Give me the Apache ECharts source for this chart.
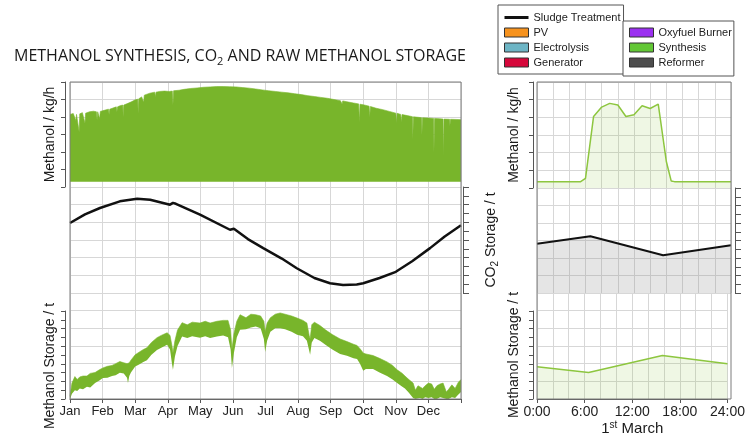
<!DOCTYPE html>
<html><head><meta charset="utf-8">
<script src="https://cdn.jsdelivr.net/npm/echarts@6/dist/echarts.min.js"></script>
<style>html,body{margin:0;padding:0;background:#fff}#c{width:748px;height:439px}</style>
</head><body><div id="c"></div>
<script>
// ---------------- data ----------------
const MONTHS = ['Jan','Feb','Mar','Apr','May','Jun','Jul','Aug','Sep','Oct','Nov','Dec'];

// yearly methanol production rate: night level and daily peak envelope [month, value in grid units]
const rateNightLevel = 0.3;
const ratePeakYear = [
 [0.00,4.15],[0.10,4.2],[0.16,4.12],[0.18,3.8],[0.20,4.15],[0.26,4.18],[0.28,3.16],[0.30,4.18],[0.38,4.25],[0.44,4.22],
 [0.46,3.65],[0.48,4.22],[0.60,4.3],[0.72,4.33],[0.81,4.3],[0.83,3.83],[0.85,4.3],[0.90,4.3],[0.91,3.9],[0.93,4.32],
 [1.05,4.38],[1.18,4.45],[1.20,4.15],[1.22,4.45],[1.30,4.5],[1.42,4.58],[1.44,4.3],[1.46,4.58],[1.54,4.65],[1.62,4.68],
 [1.63,4.0],[1.65,4.68],[1.78,4.78],[1.90,4.88],[2.00,4.98],[2.08,5.02],[2.09,4.2],[2.11,5.04],[2.20,5.15],[2.25,5.2],
 [2.26,4.85],[2.28,5.25],[2.30,5.3],[2.45,5.36],[2.60,5.42],[2.62,5.15],[2.64,5.42],[2.75,5.46],[2.90,5.48],[3.05,5.46],
 [3.14,5.48],[3.16,4.7],[3.18,5.5],[3.35,5.53],[3.50,5.58],[3.70,5.63],[3.90,5.66],[4.10,5.7],[4.30,5.72],[4.50,5.74],
 [4.70,5.74],[4.90,5.73],[5.10,5.72],[5.30,5.68],[5.50,5.65],[5.70,5.6],[5.90,5.55],[6.10,5.5],[6.30,5.46],[6.50,5.42],
 [6.70,5.38],[6.90,5.33],[7.10,5.28],[7.30,5.22],[7.50,5.17],[7.70,5.12],[7.90,5.07],[8.10,5.0],[8.30,4.93],[8.34,4.93],
 [8.35,4.75],[8.37,4.92],[8.50,4.87],[8.70,4.8],[8.86,4.75],[8.88,3.7],[8.90,4.73],[9.00,4.7],[9.18,4.62],[9.20,4.0],
 [9.22,4.6],[9.40,4.5],[9.60,4.42],[9.80,4.32],[10.00,4.22],[10.02,3.65],[10.04,4.21],[10.15,4.15],[10.17,3.7],[10.19,4.14],
 [10.35,4.08],[10.51,4.02],[10.52,2.74],[10.54,4.01],[10.70,3.98],[10.79,3.96],[10.80,2.97],[10.82,3.96],[11.00,3.94],
 [11.16,3.92],[11.17,2.0],[11.19,3.92],[11.35,3.9],[11.45,3.88],[11.46,1.83],[11.48,3.88],[11.65,3.87],[11.66,3.5],
 [11.68,3.87],[11.85,3.86],[12.00,3.85]
];

// yearly CO2 storage [month, value]
const co2Year = [
 [0,3.96],[0.46,4.45],[0.92,4.81],[1.53,5.19],[2.06,5.34],[2.46,5.28],[3.07,5.0],[3.13,4.98],[3.16,5.1],[3.25,5.05],
 [3.99,4.43],[4.91,3.58],[4.97,3.67],[5.03,3.64],[5.46,3.05],[5.93,2.54],[6.5,1.95],[6.96,1.4],[7.5,0.85],[7.98,0.55],
 [8.38,0.45],[8.8,0.48],[9.0,0.55],[9.5,0.85],[10.0,1.2],[10.5,1.8],[11.05,2.54],[11.5,3.2],[12,3.83]
];

// yearly raw methanol storage band [month, daily low, daily high]
const storageYear = [
 [0.00,0.00,0.15],[0.06,0.30,0.90],[0.15,0.50,1.27],[0.22,0.45,1.10],[0.30,0.60,1.25],[0.40,0.55,1.30],[0.52,0.70,1.30],
 [0.62,0.65,1.45],[0.77,0.90,1.50],[0.90,1.05,1.65],[1.01,1.19,1.76],[1.15,1.20,1.85],[1.29,1.30,1.90],[1.40,1.35,2.00],
 [1.53,1.48,2.12],[1.65,1.45,2.05],[1.75,1.20,2.00],[1.78,0.90,1.95],[1.82,1.30,2.05],[1.87,1.50,2.20],[2.00,1.84,2.50],
 [2.12,1.95,2.65],[2.25,2.10,2.80],[2.36,2.20,2.90],[2.50,2.50,3.20],[2.67,2.78,3.47],[2.80,2.90,3.60],[2.98,3.07,3.75],
 [3.07,2.80,3.60],[3.13,2.00,3.00],[3.16,1.65,2.60],[3.22,2.40,3.30],[3.30,3.00,3.90],[3.44,3.54,4.32],[3.60,3.45,4.20],
 [3.75,3.55,4.35],[3.99,3.47,4.30],[4.15,3.55,4.40],[4.30,3.45,4.30],[4.51,3.54,4.40],[4.70,3.60,4.45],[4.85,3.50,4.45],
 [4.93,2.80,3.90],[4.97,1.76,2.80],[5.03,2.60,3.70],[5.12,3.50,4.40],[5.22,3.92,4.77],[5.40,3.95,4.60],[5.55,4.05,4.80],
 [5.70,4.10,4.77],[5.85,4.00,4.70],[5.95,3.40,4.40],[5.99,2.66,3.80],[6.05,3.30,4.30],[6.15,3.80,4.60],[6.30,4.00,4.80],
 [6.45,4.00,4.87],[6.60,3.95,4.80],[6.80,3.80,4.70],[6.97,3.64,4.58],[7.15,3.55,4.45],[7.27,3.30,4.30],[7.34,2.50,3.60],
 [7.37,2.50,3.40],[7.42,3.20,4.20],[7.50,3.45,4.35],[7.67,3.30,4.16],[7.85,3.05,3.90],[8.05,2.80,3.65],[8.29,2.55,3.40],
 [8.50,2.45,3.25],[8.70,2.30,3.10],[8.81,2.27,3.03],[8.90,2.00,2.85],[9.00,1.60,2.60],[9.08,1.70,2.55],[9.30,1.70,2.46],
 [9.50,1.50,2.30],[9.73,1.30,2.10],[9.90,1.10,1.90],[10.04,0.90,1.65],[10.20,0.70,1.45],[10.28,0.60,1.30],[10.40,0.35,1.10],
 [10.53,0.05,0.90],[10.60,0.00,0.50],[10.68,0.00,0.75],[10.74,0.05,0.85],[10.82,0.00,0.60],[10.90,0.10,0.75],[11.00,0.05,0.90],
 [11.10,0.10,0.85],[11.18,0.00,0.55],[11.26,0.00,0.75],[11.36,0.10,0.85],[11.45,0.05,0.90],[11.55,0.00,0.40],[11.62,0.00,0.55],
 [11.72,0.10,0.80],[11.82,0.05,0.60],[11.92,0.25,0.95],[12.00,0.40,1.10]
];

// 1st March [hour, value]
const dayRate = [[0,0.36],[5.4,0.36],[6,0.55],[7,4.05],[8,4.58],[9,4.79],[10,4.7],[11,4.05],[12,4.15],[13,4.66],[14,4.5],[15,4.75],[16,1.5],[16.6,0.4],[17,0.36],[24,0.36]];
const dayCO2 = [[0,2.82],[6.6,3.24],[15.6,2.16],[24,2.73]];
const dayStorage = [[0,1.83],[6.5,1.5],[15.8,2.46],[24,1.99]];

// ---------------- styling ----------------
const FONT = 'Liberation Sans, Arial, sans-serif';
const GREEN = '#78b52b';
const LGREEN = '#8dc63f';
const AX = '#555';
const GRIDLINE = {show:true, lineStyle:{color:'#d7d7d7', width:1}};
const NAME_STYLE = {fontSize:14, fontFamily:FONT, color:'#1a1a1a'};

const xMonth = (gi) => ({type:'value', gridIndex:gi, min:0, max:12, interval:1,
  axisLine:{show:false}, axisTick:{show:false}, axisLabel:{show:false}, splitLine:GRIDLINE});
const xHour = (gi, pos) => ({type:'value', gridIndex:gi, min:0, max:24, interval:2, position:pos||'bottom',
  axisLine:{show:false}, axisTick:{show:false}, axisLabel:{show:false}, splitLine:GRIDLINE});
const hidden = (gi) => ({type:'value', gridIndex:gi, show:false, min:0, max:1});
const yRows = (gi) => ({type:'value', gridIndex:gi, min:0, max:6, interval:1,
  axisLine:{show:false}, axisTick:{show:false}, axisLabel:{show:false}, splitLine:GRIDLINE});
const yLeftAxis = (gi, max, off, minor, name, gap, pad) => ({type:'value', gridIndex:gi, min:0, max:max, interval:1,
  position:'left', offset:off,
  axisLine:{show:true, onZero:false, lineStyle:{color:AX}},
  axisTick:{show:true, length:4, lineStyle:{color:AX}},
  minorTick:{show:minor, splitNumber:2, length:4, lineStyle:{color:AX}},
  axisLabel:{show:false}, splitLine:{show:false},
  name:name, nameLocation:'middle', nameGap:gap,
  nameTextStyle:Object.assign({}, NAME_STYLE, pad ? {padding:pad} : {})});
const yCO2Axis = (gi, off, withName) => ({type:'value', gridIndex:gi, min:0, max:6, interval:1,
  position:'right', offset:off,
  axisLine:{show:true, onZero:false, lineStyle:{color:AX}},
  axisTick:{show:true, length:6, lineStyle:{color:AX}},
  minorTick:{show:true, splitNumber:2, length:6, lineStyle:{color:AX}},
  axisLabel:{show:false}, splitLine:GRIDLINE,
  name: withName ? 'CO{sub|2} Storage / t' : '', nameLocation:'middle', nameGap:19,
  nameTextStyle:Object.assign({}, NAME_STYLE, {lineHeight:18, rich:{sub:{fontSize:10, fontFamily:FONT, color:'#1a1a1a', lineHeight:8, verticalAlign:'bottom'}}})});

const frame = {show:true, borderColor:'#7d7d7d', borderWidth:1, backgroundColor:'transparent', z:10};
const LINE_ICON = 'path://M0,0 L24,0 L24,3 L0,3 Z';

const option = {
  animation:false,
  backgroundColor:'#ffffff',
  title:{
    text:'{a|METHANOL SYNTHESIS, CO}{b|2}{a| AND RAW METHANOL STORAGE}',
    left:9, top:40,
    textStyle:{fontWeight:'normal', rich:{
      a:{fontSize:16, fontFamily:'Open Sans', fontWeight:'normal', color:'#1a1a1a', lineHeight:22},
      b:{fontSize:11, fontFamily:'Open Sans', fontWeight:'normal', color:'#1a1a1a', lineHeight:10, verticalAlign:'bottom'}
    }}
  },
  legend:[
    {left:498, top:5, orient:'vertical', itemWidth:24, itemHeight:9, itemGap:2, padding:[6,3,5,6],
     selectedMode:false, borderColor:'#555', borderWidth:1, backgroundColor:'#fff',
     itemStyle:{borderColor:'#333', borderWidth:1},
     textStyle:{fontSize:11, fontFamily:FONT, color:'#222', lineHeight:13},
     data:[{name:'Sludge Treatment', icon:LINE_ICON, itemStyle:{color:'#111', borderWidth:0}},
           {name:'PV', icon:'rect', itemStyle:{color:'#f7931e', borderColor:'#333', borderWidth:1}},
           {name:'Electrolysis', icon:'rect', itemStyle:{color:'#6db5c5', borderColor:'#333', borderWidth:1}},
           {name:'Generator', icon:'rect', itemStyle:{color:'#d6083b', borderColor:'#333', borderWidth:1}}]},
    {left:623, top:21, orient:'vertical', itemWidth:24, itemHeight:9, itemGap:2, padding:[5,2,7,6],
     selectedMode:false, borderColor:'#555', borderWidth:1, backgroundColor:'#fff',
     itemStyle:{borderColor:'#333', borderWidth:1},
     textStyle:{fontSize:11, fontFamily:FONT, color:'#222', lineHeight:13},
     data:[{name:'Oxyfuel Burner', icon:'rect', itemStyle:{color:'#9b30f0', borderColor:'#333', borderWidth:1}},
           {name:'Synthesis', icon:'rect', itemStyle:{color:'#62c735', borderColor:'#333', borderWidth:1}},
           {name:'Reformer', icon:'rect', itemStyle:{color:'#4d4d4d', borderColor:'#333', borderWidth:1}}]}
  ],
  grid:[
    {left:70, top:82, width:391, height:105},
    {left:70, top:187, width:391, height:106},
    {left:70, top:293, width:391, height:106},
    Object.assign({left:70, top:82, width:391, height:317}, frame),
    {left:70, top:311, width:391, height:88},
    {left:537, top:82, width:194, height:106},
    {left:537, top:188, width:194, height:105},
    {left:537, top:293, width:194, height:106},
    Object.assign({left:537, top:82, width:194, height:317}, frame),
    {left:537, top:311, width:194, height:88}
  ],
  xAxis:[
    xMonth(0),
    xMonth(1),
    Object.assign(xMonth(2), {
      axisLine:{show:true, onZero:false, lineStyle:{color:AX}},
      axisTick:{show:true, length:4, lineStyle:{color:AX}},
      axisLabel:{show:true, margin:6, fontSize:13, fontFamily:FONT, color:'#222',
                 formatter:(v)=> MONTHS[v] || ''}
    }),
    hidden(3),
    hidden(4),
    xHour(5),
    xHour(6),
    xHour(7, 'top'),
    {type:'value', gridIndex:7, position:'bottom', min:0, max:24, interval:6,
     axisLine:{show:true, onZero:false, lineStyle:{color:AX}},
     axisTick:{show:true, length:4, lineStyle:{color:AX}},
     axisLabel:{show:true, margin:6, fontSize:14, fontFamily:FONT, color:'#222', formatter:(v)=> v + ':00'},
     splitLine:{show:false},
     name:'1{sup|st} March', nameLocation:'middle', nameGap:21,
     nameTextStyle:{fontSize:15, fontFamily:FONT, color:'#1a1a1a', lineHeight:18,
       rich:{sup:{fontSize:10, fontFamily:FONT, color:'#1a1a1a', lineHeight:10, verticalAlign:'top'}}}},
    hidden(8),
    hidden(9)
  ],
  yAxis:[
    Object.assign(yRows(0), {offset:5,
      axisLine:{show:true, onZero:false, lineStyle:{color:AX}},
      axisTick:{show:true, length:4, lineStyle:{color:AX}},
      name:'Methanol / kg/h', nameLocation:'middle', nameGap:8, nameTextStyle:NAME_STYLE}),
    yCO2Axis(1, 2, true),
    yRows(2),
    hidden(3),
    yLeftAxis(4, 5, 5, true, 'Methanol Storage / t', 8, [0,22,0,0]),
    Object.assign(yRows(5), {offset:4,
      axisLine:{show:true, onZero:false, lineStyle:{color:AX}},
      axisTick:{show:true, length:4, lineStyle:{color:AX}},
      name:'Methanol / kg/h', nameLocation:'middle', nameGap:12, nameTextStyle:NAME_STYLE}),
    yCO2Axis(6, 4, false),
    yRows(7),
    hidden(8),
    yLeftAxis(9, 5, 4, true, 'Methanol Storage / t', 12, null)
  ],
  series:[
    // yearly rate: area between night level and daily peak envelope
    {name:'Synthesis', type:'line', xAxisIndex:0, yAxisIndex:0, symbol:'none', color:GREEN,
     lineStyle:{width:0.6, color:GREEN}, areaStyle:{color:GREEN, opacity:1, origin:rateNightLevel},
     data: ratePeakYear},
    // yearly CO2 storage
    {name:'Sludge Treatment', type:'line', xAxisIndex:1, yAxisIndex:1, symbol:'none', color:'#111',
     lineStyle:{width:2.5, color:'#111'}, data:co2Year},
    // yearly methanol storage band (value first, month second -> stacks on the value)
    {name:'storageLow', type:'line', xAxisIndex:2, yAxisIndex:2, stack:'store', symbol:'none', silent:true,
     encode:{x:1, y:0}, lineStyle:{width:0, opacity:0}, data: storageYear.map(p => [p[1], p[0]])},
    {name:'Synthesis', type:'line', xAxisIndex:2, yAxisIndex:2, stack:'store', symbol:'none', color:GREEN,
     encode:{x:1, y:0}, lineStyle:{width:0.6, color:GREEN}, areaStyle:{color:GREEN, opacity:1},
     data: storageYear.map(p => [p[2] - p[1], p[0]])},
    // 1st March
    {name:'Synthesis', type:'line', xAxisIndex:5, yAxisIndex:5, symbol:'none', color:LGREEN,
     lineStyle:{width:1.5, color:LGREEN}, areaStyle:{color:'rgba(141,198,63,0.2)'}, data:dayRate},
    {name:'Sludge Treatment', type:'line', xAxisIndex:6, yAxisIndex:6, symbol:'none', color:'#111',
     lineStyle:{width:2, color:'#111'}, areaStyle:{color:'rgba(150,150,150,0.35)'}, data:dayCO2},
    {name:'Synthesis', type:'line', xAxisIndex:7, yAxisIndex:7, symbol:'none', color:LGREEN,
     lineStyle:{width:1.5, color:LGREEN}, areaStyle:{color:'rgba(141,198,63,0.2)'}, data:dayStorage},
    // legend-only entries
    {name:'PV', type:'line', xAxisIndex:0, yAxisIndex:0, color:'#f7931e', data:[]},
    {name:'Electrolysis', type:'line', xAxisIndex:0, yAxisIndex:0, color:'#6db5c5', data:[]},
    {name:'Generator', type:'line', xAxisIndex:0, yAxisIndex:0, color:'#d6083b', data:[]},
    {name:'Oxyfuel Burner', type:'line', xAxisIndex:0, yAxisIndex:0, color:'#9b30f0', data:[]},
    {name:'Reformer', type:'line', xAxisIndex:0, yAxisIndex:0, color:'#4d4d4d', data:[]}
  ]
};

const chart = echarts.init(document.getElementById('c'), null, {renderer:'canvas'});
chart.setOption(option);
</script></body></html>
